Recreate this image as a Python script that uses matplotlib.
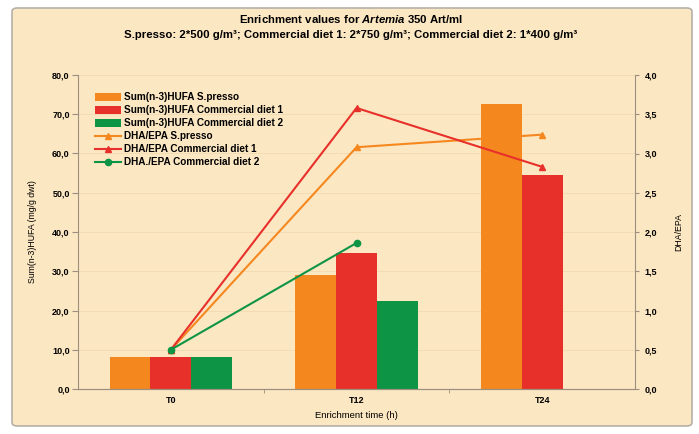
import matplotlib.pyplot as plt
from matplotlib.patches import FancyBboxPatch
import numpy as np

# data
times = ['T0', 'T12', 'T24']
hufa_spresso = [8.2, 29.0, 72.6]
hufa_diet1 = [8.2, 34.6, 54.5]
hufa_diet2 = [8.2, 22.5, 0]
dha_spresso = [0.50, 3.08, 3.24]
dha_diet1 = [0.50, 3.58, 2.83]
dha_diet2 = [0.50, 1.86]

orange = '#F5871F'
red = '#E8302A'
green = '#0E9445'
bg = '#FCE7C3'
spine = '#9C8F80'

plt.rcParams['font.family'] = ['Liberation Sans', 'DejaVu Sans']
plt.rcParams['font.weight'] = 'bold'
plt.rcParams['mathtext.fontset'] = 'custom'
plt.rcParams['mathtext.it'] = 'Liberation Sans:italic:bold'
plt.rcParams['mathtext.rm'] = 'Liberation Sans:bold'

fig = plt.figure(figsize=(6.99, 4.34), dpi=100, facecolor='white')
frame = FancyBboxPatch((12 / 699, 8 / 434), 680 / 699, 418 / 434,
                       boxstyle='round,pad=0,rounding_size=0.008',
                       transform=fig.transFigure, facecolor=bg,
                       edgecolor='#B5B0A8', linewidth=1.2, zorder=-10)
fig.patches.append(frame)

ax = fig.add_axes([78 / 699, 45 / 434, 557 / 699, 314 / 434])
ax.set_facecolor('none')
x = np.arange(len(times))
w = 0.22

b1 = ax.bar(x - w, hufa_spresso, w, color=orange, label='Sum(n-3)HUFA S.presso', zorder=2)
b2 = ax.bar(x, hufa_diet1, w, color=red, label='Sum(n-3)HUFA Commercial diet 1', zorder=2)
b3 = ax.bar(x + w, hufa_diet2, w, color=green, label='Sum(n-3)HUFA Commercial diet 2', zorder=2)

ax.set_xlim(-0.5, 2.5)
ax.set_ylim(0, 80)
ax.set_yticks(np.arange(0, 81, 10))
ax.set_yticklabels([f'{v:.1f}'.replace('.', ',') for v in np.arange(0, 81, 10)])
ax.set_xticks(x)
ax.set_xticklabels(times)
ax.set_xticks([0.5, 1.5], minor=True)
ax.tick_params(axis='x', which='major', length=0, pad=5, labelsize=6.5)
ax.tick_params(axis='x', which='minor', length=3, color=spine)
ax.tick_params(axis='y', length=4, color=spine, labelsize=6.5, pad=2)
ax.set_xlabel('Enrichment time (h)', fontsize=6.8, labelpad=4)
ax.set_ylabel('Sum(n-3)HUFA (mg/g dwt)', fontsize=6.3, labelpad=11)
for s in ax.spines.values():
    s.set_color(spine)
ax.spines['top'].set_visible(False)
ax.spines['right'].set_visible(False)
ax.yaxis.grid(True, color='#F2DAB0', linewidth=0.6, zorder=0)
ax.set_axisbelow(True)

ax2 = ax.twinx()
l1, = ax2.plot(x, dha_spresso, color=orange, marker='^', markersize=4.5, lw=1.5, label='DHA/EPA S.presso')
l2, = ax2.plot(x, dha_diet1, color=red, marker='^', markersize=4.5, lw=1.5, label='DHA/EPA Commercial diet 1')
l3, = ax2.plot(x[:2], dha_diet2, color=green, marker='o', markersize=4.5, lw=1.5, label='DHA./EPA Commercial diet 2')
ax2.set_ylim(0, 4)
ax2.set_yticks(np.arange(0, 4.01, 0.5))
ax2.set_yticklabels([f'{v:.1f}'.replace('.', ',') for v in np.arange(0, 4.01, 0.5)])
ax2.tick_params(axis='y', length=3, color=spine, labelsize=6.5, pad=4)
ax2.set_ylabel('DHA/EPA', fontsize=6.3, labelpad=12)
for s in ax2.spines.values():
    s.set_color(spine)
ax2.spines['top'].set_visible(False)
ax2.spines['left'].set_visible(False)

handles = [b1, b2, b3, l1, l2, l3]
leg = ax2.legend(handles, [h.get_label() for h in handles], loc='upper left',
                 bbox_to_anchor=(0.03, 0.945), frameon=False, fontsize=7.2,
                 handlelength=2.6, handleheight=0.8, labelspacing=0.3,
                 handletextpad=0.3, borderaxespad=0, borderpad=0)

fig.text(0.502, 0.956, r'Enrichment values for $\it{Artemia}$ 350 Art/ml',
         ha='center', va='center', fontsize=8.2)
fig.text(0.502, 0.92, 'S.presso: 2*500 g/m³; Commercial diet 1: 2*750 g/m³; Commercial diet 2: 1*400 g/m³',
         ha='center', va='center', fontsize=8.2)

fig.savefig('out.png', dpi=100, facecolor='white')
